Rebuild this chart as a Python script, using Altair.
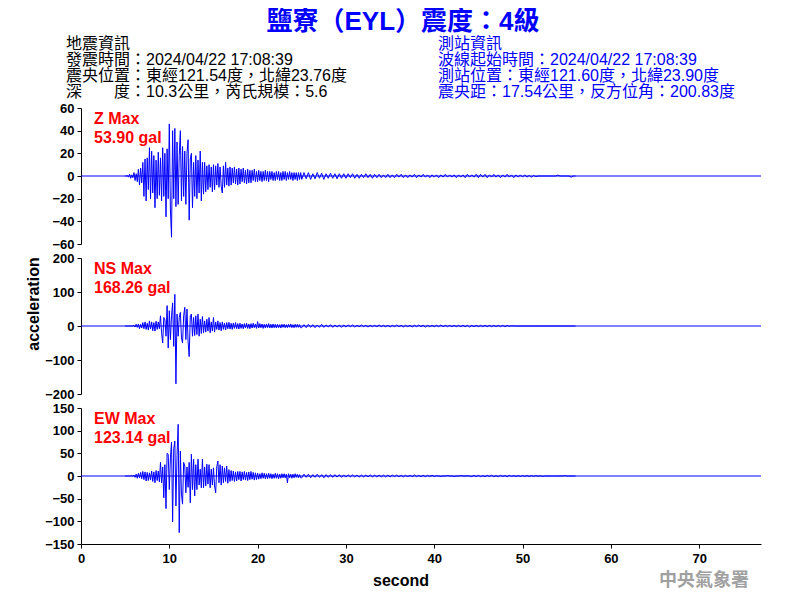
import altair as alt
import pandas as pd

# ---------------- text content ----------------
TITLE = "鹽寮（EYL）震度：4級"
QUAKE_INFO = [
    "地震資訊",
    "發震時間：2024/04/22 17:08:39",
    "震央位置：東經121.54度，北緯23.76度",
    "深\u3000\u3000度：10.3公里，芮氏規模：5.6",
]
STATION_INFO = [
    "測站資訊",
    "波線起始時間：2024/04/22 17:08:39",
    "測站位置：東經121.60度，北緯23.90度",
    "震央距：17.54公里，反方位角：200.83度",
]
WATERMARK = "中央氣象署"
X_TITLE = "second"
Y_TITLE = "acceleration"

COMPONENTS = ["Z", "NS", "EW"]
PEAKS = ["53.90 gal", "168.26 gal", "123.14 gal"]
Y_DOMAINS = [[-60, 60], [-200, 200], [-150, 150]]
Y_TICKS = [
    [-60, -40, -20, 0, 20, 40, 60],
    [-200, -100, 0, 100, 200],
    [-150, -100, -50, 0, 50, 100, 150],
]
X_DOMAIN = [0, 77]
X_TICKS = [0, 10, 20, 30, 40, 50, 60, 70]
BASELINE = [0]

# ---------------- waveform samples ----------------
# strong-motion part: 5.0 s .. 24.875 s every 0.125 s (one row = one second)
ACTIVE_START = 5.0
ACTIVE_STEP = 0.125
# coda: 25.0 s .. 56.0 s every 0.25 s (one row = five seconds)
TAIL_START = 25.0
TAIL_STEP = 0.25

Z_ACTIVE = [
    0, 0, 0.5, -1, 1.5, -2, 1, -1.5,
    3, -4, 2, -5, 6, -8, 7, -6,
    12, -18, 15, -22, 16, -12, 25, -20,
    22, -15, 18, -28, 14, -20, 21, -17,
    16, -22, 25, -18, 20, -36, 24, -20,
    46, -30, -54, 40, -20, 42, -27, 30,
    -25, 18, 40, -22, 26, -18, 22, -25,
    20, 32, -39, 15, 20, -28, 12, -18,
    18, -20, 14, -15, 22, -22, 12, -16,
    12, -14, 9, -12, 10, -10, 8, -14,
    10, -12, 9, -8, 11, -10, 8, -9,
    -15, 9, -10, 12, -8, 7, -9, 8,
    -8, 7, -6, 8, -7, 6, -8, 7,
    -7, 6, -5, 7, -6, 5, -7, 6,
    -6, 5, -6, 5, -4, 6, -5, 4,
    -5, 5, -4, 4, -5, 4, -4, 5,
    -4, 4, -5, 4, -3, 4, -4, 3,
    -4, 4, -3, 4, -4, 3, -4, 4,
    -3, 4, -4, 3, -3, 4, -3, 3,
    -4, 3, -3, 3, -4, 3, -3, 3,
]
Z_TAIL = [
    -3, 3, -2.5, 3, -3, 2, -2.5, 3, -2, 2.5, -3, 2, -2, 2.5, -2, 2, -2.5, 2, -2, 2,
    -2, 2, -1.5, 2, -2, 1.5, -2, 1.5, -1.5, 2, -1.5, 1.5, -2, 1.5, -1.5, 1.5, -1.5, 1, -1.5, 1.5,
    -1.5, 1, -1.5, 1.5, -1, 1.5, -1.5, 1, -1.5, 1, -1, 1.5, -1.5, 1, -1, 1.5, -1, 1, -1.5, 1,
    -1, 1, -1.5, 1, -1, 1.5, -1, 1, -1, 1, -1.5, 1, -1, 1, -1.5, 1.5, -1, 1, -1, 1.5,
    -1.5, 1.5, -1, 1.5, -1.5, 1, -1, 1.5, -1, 1, -1.5, 1, -1, 1.5, -1, 1, -1.5, 1, -1, 1,
    -1, 1, -1, 0.5, -1, 0.5, -0.5, 0, 0, 0, 0, 0, 0, 0, 0, 0, 0.8, 0, 0, 0,
    0, 0, -1, 0, 0,
]

NS_ACTIVE = [
    0, 0, 0, 0, 0, 0, 0, 0,
    2, -3, 5, -4, 6, -8, 5, -6,
    10, -8, 12, -10, 8, -12, 15, -9,
    12, -14, 10, -15, 14, -10, 12, -8,
    30, -20, -50, 25, 18, -30, 60, -65,
    45, -40, 30, 68, -60, 93, -170, 35,
    -30, 25, 40, -35, -50, 30, 55, -40,
    50, -45, -90, 30, 35, -30, 25, -28,
    30, -25, 35, -30, 20, -22, 28, -20,
    15, -18, 20, -15, 25, -20, 12, -15,
    25, -18, 12, -10, 15, -12, 10, -14,
    12, -10, 9, -12, 10, -8, 11, -9,
    8, -10, 9, -7, 10, -8, 7, -9,
    8, -7, 6, -8, 7, -6, 8, -7,
    6, -8, 7, -6, 8, -5, 6, -7,
    13, -6, 7, -5, 6, -7, 5, -6,
    6, -5, 7, -6, 5, -6, 6, -5,
    5, -6, 5, -5, 4, -6, 5, -4,
    5, -5, 4, -5, 5, -4, 6, -5,
    4, -5, 5, -4, 5, -4, 4, -5,
]
NS_TAIL = [
    -5, 4, -5, 5, -4, 4, -5, 3, -4, 5, -4, 3, -3, 4, -4, 3, -3, 3, -4, 3,
    -3, 3, -2, 3, -3, 2, -2, 3, -2, 2, -3, 2, -2, 2, -2, 3, -2, 2, -2, 2,
    -3, 2, -2, 3, -2, 2, -3, 2, -2, 2, -3, 2, -2, 3, -2, 2, -3, 2, -2, 2,
    -2, 2, -2, 3, -2, 2, -2, 2, -2, 2, -2, 2, -2, 2, -2, 2, -3, 2, -2, 2,
    -2, 2, -2, 2, -2, 2, -2, 2, -2, 2, -2, 2, -2, 2, -1, 1, 0, 0, 0, 0,
    0, 0, 0, 0, 0, 0, 0, 0, 0, 0, 0, 0, 0, 0, 0, 0, 0, 0, 0, 0,
    0, 0, 0, 0, 0,
]

EW_ACTIVE = [
    0, 0, 0, 0, 0, 0, 1, -1,
    2, -3, 4, -5, 6, -4, 8, -6,
    10, -8, 9, -11, 8, -10, 7, -9,
    11, -12, 9, -15, 12, -10, 11, -13,
    30, -15, 20, -48, 25, -72, 50, 48,
    -30, 40, 75, -101, 60, 77, -66, 45,
    114, -125, 55, -40, -62, 30, 22, -37,
    20, -25, 30, -59, 48, -30, 37, -44,
    25, -30, 37, -20, 15, -26, 37, -26,
    20, -22, 26, -18, 25, -26, 15, -20,
    18, -22, -37, 20, 33, -15, 25, -20,
    22, -15, 18, -12, 22, -16, 14, -12,
    12, -10, 11, -12, 9, -11, 10, -8,
    10, -11, 9, -8, 10, -9, 8, -10,
    9, -8, 10, -7, 8, -9, 7, -8,
    6, -7, 5, -6, 7, -5, 6, -6,
    5, -6, 6, -5, 5, -6, 4, -5,
    6, -5, 5, -6, 4, -5, 5, -4,
    5, -4, 4, -15, 5, -4, 4, -5,
    4, -4, 5, -3, 4, -4, 3, -4,
]
EW_TAIL = [
    -4, 4, -3, 4, -4, 3, -3, 4, -3, 3, -4, 3, -3, 3, -3, 3, -2.5, 3, -3, 2.5,
    -2.5, 2.5, -2, 2.5, -2, 2, -2.5, 2, -2, 2, -2, 2.5, -2, 2, -2, 2, -2, 2, -2, 2,
    -2, 2, -1.5, 2, -1.5, 1.5, -2, 1.5, -1.5, 1.5, -1.5, 2, -1.5, 1.5, -1.5, 1.5, -1.5, 1.5, -1, 1.5,
    -1, 0.5, 0, -1, 0, 0, 1, 0, 0, -1, 0, 0, 1, 0, 0, 0.5, 0, -1.5, 1.5, -1.5,
    1.5, -1.5, 1, -1.5, 1.5, -1, 1.5, -1.5, 1, -1.5, 1.5, -1, 1, -1.5, 1.5, -1, 1, -1.5, 1, -1,
    1, -1, 1, -1, 1, -1, 1, -0.5, 0.5, -1, 0, 0, 0, 0, 0, 0, 0, 0, 0, 1,
    0, 0, 0, 0, 0,
]

SERIES = [(Z_ACTIVE, Z_TAIL), (NS_ACTIVE, NS_TAIL), (EW_ACTIVE, EW_TAIL)]

# ---------------- styling ----------------
BLUE = "#0000ff"
RED = "#ff0000"
LATIN = "Liberation Sans"
MIXED = "Liberation Sans, Noto Sans CJK TC"
W, H = 680, 136


def text_layer(label, x, y, **kw):
    return (
        alt.Chart(pd.DataFrame({"label": [label]}))
        .mark_text(**kw)
        .encode(x=alt.value(x), y=alt.value(y), text="label:N")
    )


def axis_style(**kw):
    return dict(
        title=None,
        grid=False,
        labelFont=LATIN,
        labelFontSize=13,
        labelFontWeight="bold",
        labelColor="black",
        tickColor="black",
        domainColor="black",
        tickSize=4,
        tickWidth=1,
        domainWidth=1,
        labelFlush=False,
        **kw,
    )


def trace_frame(active, tail):
    times = [ACTIVE_START + ACTIVE_STEP * i for i in range(len(active))]
    times += [TAIL_START + TAIL_STEP * i for i in range(len(tail))]
    return pd.DataFrame({"t": times, "v": list(active) + list(tail)})


def panel(idx):
    df = trace_frame(*SERIES[idx])
    y_scale = alt.Scale(domain=Y_DOMAINS[idx], nice=False, zero=False)
    y_axis = alt.Axis(values=Y_TICKS[idx], labelPadding=3, **axis_style())
    x_scale = alt.Scale(domain=X_DOMAIN, nice=False, zero=False)
    if idx == 2:
        x_axis = alt.Axis(values=X_TICKS, labelPadding=4, **axis_style())
    else:
        x_axis = None

    zero = (
        alt.Chart(pd.DataFrame({"v": BASELINE}))
        .mark_rule(color=BLUE, strokeWidth=1)
        .encode(y=alt.Y("v:Q", scale=y_scale, axis=y_axis))
    )
    trace = (
        alt.Chart(df)
        .mark_line(color=BLUE, strokeWidth=1)
        .encode(
            x=alt.X("t:Q", scale=x_scale, axis=x_axis),
            y=alt.Y("v:Q", scale=y_scale, axis=y_axis),
        )
    )
    layers = [zero, trace]
    layers.append(text_layer(f"{COMPONENTS[idx]} Max", 13, 16, font=LATIN, fontSize=16,
                             fontWeight="bold", color=RED, align="left", baseline="alphabetic"))
    layers.append(text_layer(PEAKS[idx], 13, 35, font=LATIN, fontSize=16,
                             fontWeight="bold", color=RED, align="left", baseline="alphabetic"))

    if idx == 0:
        layers.append(text_layer(TITLE, 322, -86, font=MIXED, fontSize=26, fontWeight="bold",
                                 color=BLUE, align="center", baseline="middle"))
        for i, line in enumerate(QUAKE_INFO):
            layers.append(text_layer(line, -15, -64 + 16 * i, font=MIXED, fontSize=16,
                                     color="black", align="left", baseline="middle"))
        for i, line in enumerate(STATION_INFO):
            layers.append(text_layer(line, 357, -64 + 16 * i, font=MIXED, fontSize=16,
                                     color=BLUE, align="left", baseline="middle"))
    if idx == 1:
        layers.append(text_layer(Y_TITLE, -47, 46, font=LATIN, fontSize=16, fontWeight="bold",
                                 color="black", angle=270, align="center", baseline="middle"))
    if idx == 2:
        layers.append(text_layer(X_TITLE, 320, 173, font=LATIN, fontSize=16, fontWeight="bold",
                                 color="black", align="center", baseline="middle"))
        layers.append(text_layer(WATERMARK, 668, 173, font="Noto Sans CJK TC", fontSize=18,
                                 fontWeight="bold", color="#a0a0a0", align="right",
                                 baseline="middle"))

    return alt.layer(*layers).properties(width=W, height=H)


chart = (
    alt.vconcat(panel(0), panel(1), panel(2), spacing=14, bounds="flush")
    .properties(padding={"left": 17, "top": 0, "right": 5, "bottom": 5}, background="white")
    .configure_view(stroke="transparent")
)

chart.save("out.html", embed_options={"renderer": "svg", "actions": False})
